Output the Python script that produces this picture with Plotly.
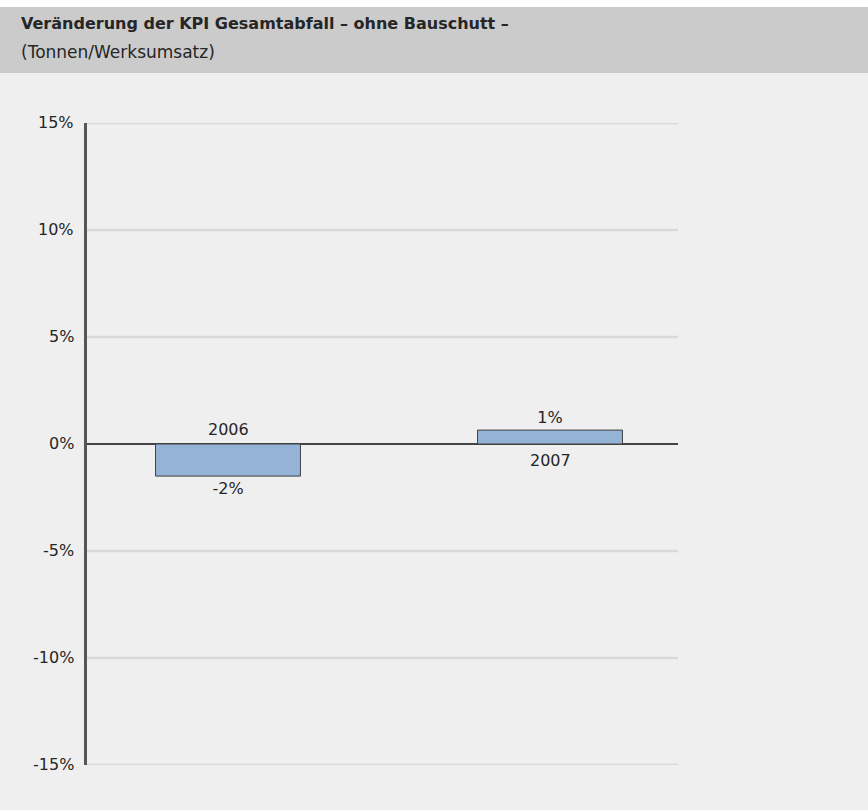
import plotly.graph_objects as go

# Data
years = ["2006", "2007"]
changes = [-1.5, 0.65]          # change of KPI in percent
tick_values = [15, 10, 5, 0, -5, -10, -15]
tick_labels = ["15%", "10%", "5%", "0%", "-5%", "-10%", "-15%"]

title = "Veränderung der KPI Gesamtabfall – ohne Bauschutt –"
subtitle = "(Tonnen/Werksumsatz)"

W, H = 868, 810
L, R, T, B = 87, 190, 123, 45
plot_w = W - L - R
plot_h = H - T - B


def px_x(px):
    return (px - L) / plot_w


def px_y(py):
    return (H - B - py) / plot_h


FONT = "DejaVu Sans"
TXT = "#262626"
FS = 16

xpos = list(range(len(years)))
value_text = [f"{round(v):d}%" for v in changes]

fig = go.Figure()
fig.add_trace(go.Bar(
    x=xpos,
    y=changes,
    width=0.45,
    marker=dict(color="#95b3d7", line=dict(color="#3f3f3f", width=1)),
    text=value_text,
    textposition="outside",
    textfont=dict(family=FONT, size=FS, color=TXT),
    cliponaxis=False,
    hoverinfo="skip",
))

annotations = []
# category labels on the opposite side of the zero line
for x, yr, v in zip(xpos, years, changes):
    annotations.append(dict(
        x=x, y=0, xref="x", yref="y", text=yr, showarrow=False,
        yanchor="bottom" if v < 0 else "top",
        yshift=3 if v < 0 else -5,
        font=dict(family=FONT, size=FS, color=TXT),
    ))

# y tick labels, right aligned next to the axis
for tv, tl in zip(tick_values, tick_labels):
    annotations.append(dict(
        x=px_x(76), y=tv, xref="paper", yref="y",
        text=tl, showarrow=False, xanchor="right", yanchor="middle", yshift=1,
        font=dict(family=FONT, size=FS, color=TXT),
    ))

# header text
annotations.append(dict(
    x=px_x(19), y=px_y(24), xref="paper", yref="paper", text=f"<b>{title}</b>",
    showarrow=False, xanchor="left", yanchor="middle",
    font=dict(family=FONT, size=FS, color=TXT),
))
annotations.append(dict(
    x=px_x(19), y=px_y(52), xref="paper", yref="paper", text=subtitle,
    showarrow=False, xanchor="left", yanchor="middle",
    font=dict(family=FONT, size=17, color=TXT),
))

shapes = [
    # header band
    dict(type="rect", xref="paper", yref="paper",
         x0=px_x(0), x1=px_x(W), y0=px_y(73), y1=px_y(7),
         fillcolor="#cbcbcb", line=dict(width=0), layer="below"),
    # white strip at the very top
    dict(type="rect", xref="paper", yref="paper",
         x0=px_x(0), x1=px_x(W), y0=px_y(7), y1=px_y(0),
         fillcolor="#ffffff", line=dict(width=0), layer="below"),
]
# horizontal gridlines (all but the zero line)
for tv in tick_values:
    if tv != 0:
        shapes.append(dict(
            type="line", xref="paper", yref="y", x0=0, x1=1, y0=tv, y1=tv,
            line=dict(color="#d9d9d9", width=2.5), layer="below",
        ))

fig.update_layout(
    width=W, height=H,
    margin=dict(l=L, r=R, t=T, b=B, pad=0),
    paper_bgcolor="#efefef",
    plot_bgcolor="#efefef",
    showlegend=False,
    annotations=annotations,
    shapes=shapes,
    xaxis=dict(
        range=[(L - 228) / 322, (W - R - 228) / 322],
        showgrid=False, zeroline=False, showticklabels=False, ticks="",
        showline=False, fixedrange=True,
    ),
    yaxis=dict(
        range=[-15, 15],
        showticklabels=False,
        ticks="",
        showgrid=False,
        zeroline=True, zerolinecolor="#444444", zerolinewidth=1.5,
        showline=True, linecolor="#555555", linewidth=2.5,
        fixedrange=True,
    ),
)

fig.write_html("out.html")
